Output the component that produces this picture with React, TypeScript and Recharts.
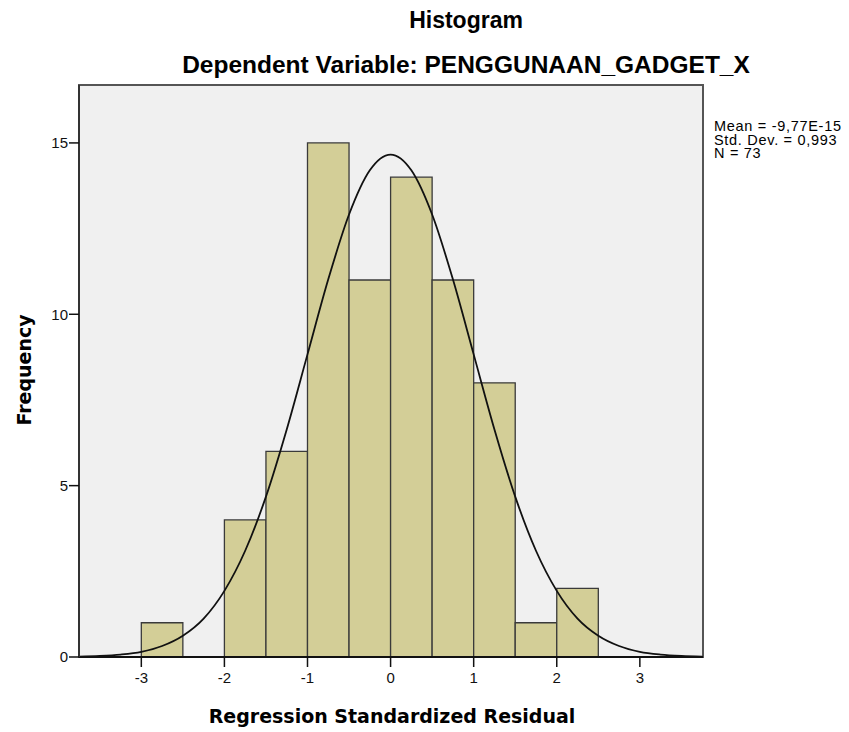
import React from "react";
import { ComposedChart, Line, XAxis, YAxis, ReferenceArea } from "recharts";

// Histogram bins (lower edge, upper edge, frequency)
const binStarts = [-3, -2.5, -2, -1.5, -1, -0.5, 0, 0.5, 1, 1.5, 2];
const binEnds = [-2.5, -2, -1.5, -1, -0.5, 0, 0.5, 1, 1.5, 2, 2.5];
const binCounts = [1, 0, 4, 6, 15, 11, 14, 11, 8, 1, 2];

// Normal curve
const curveX = [
  -3.75, -3.5, -3.25, -3, -2.75, -2.5, -2.25, -2, -1.75, -1.5, -1.25, -1, -0.75, -0.5, -0.25, 0,
  0.25, 0.5, 0.75, 1, 1.25, 1.5, 1.75, 2, 2.25, 2.5, 2.75, 3, 3.25, 3.5, 3.75,
];
const curveY = [
  0.01, 0.03, 0.07, 0.15, 0.32, 0.62, 1.12, 1.93, 3.1, 4.68, 6.64, 8.83, 11.02, 12.91, 14.2, 14.66,
  14.2, 12.91, 11.02, 8.83, 6.64, 4.68, 3.1, 1.93, 1.12, 0.62, 0.32, 0.15, 0.07, 0.03, 0.01,
];

const xTicks = [-3, -2, -1, 0, 1, 2, 3];
const yTicks = [0, 5, 10, 15];
const legendLines = ["Mean = -9,77E-15", "Std. Dev. = 0,993", "N = 73"];

const title = "Histogram";
const subtitle = "Dependent Variable: PENGGUNAAN_GADGET_X";
const xLabel = "Regression Standardized Residual";
const yLabel = "Frequency";

const curveData = curveX.map((x, i) => ({ x, y: curveY[i] }));

const W = 849;
const H = 732;
const tickStyle = { fill: "#111", fontSize: 15, fontFamily: "Liberation Sans, Arial, sans-serif" };

export default function App() {
  return (
    <div style={{ position: "absolute", left: 0, top: 0, width: W, height: H, background: "#fff" }}>
      <ComposedChart
        width={W}
        height={H}
        data={curveData}
        margin={{ top: 85, right: 146, bottom: 0, left: 0 }}
      >
        <XAxis
          type="number"
          dataKey="x"
          domain={[-3.75, 3.76]}
          ticks={xTicks}
          allowDataOverflow
          height={75}
          tickSize={10}
          tickMargin={5}
          tick={tickStyle}
          tickLine={{ stroke: "#111", strokeWidth: 1.5 }}
          axisLine={{ stroke: "#111", strokeWidth: 2 }}
        />
        <YAxis
          type="number"
          domain={[0, 16.69]}
          ticks={yTicks}
          allowDataOverflow
          width={79}
          tickSize={10}
          tickMargin={1}
          tick={tickStyle}
          tickLine={{ stroke: "#111", strokeWidth: 1.5 }}
          axisLine={{ stroke: "#333", strokeWidth: 2 }}
        />
        <ReferenceArea
          x1={-3.75}
          x2={3.76}
          y1={0}
          y2={16.69}
          fill="#F0F0F0"
          fillOpacity={1}
          stroke="#555"
          strokeWidth={2}
          ifOverflow="visible"
        />
        {binCounts.map((c, i) =>
          c > 0 ? (
            <ReferenceArea
              key={i}
              x1={binStarts[i]}
              x2={binEnds[i]}
              y1={0}
              y2={c}
              fill="#D3CE97"
              fillOpacity={1}
              stroke="#3a3a3a"
              strokeWidth={1.3}
              ifOverflow="visible"
            />
          ) : null
        )}
        <Line
          dataKey="y"
          type="monotone"
          stroke="#111"
          strokeWidth={1.8}
          dot={false}
          activeDot={false}
          isAnimationActive={false}
        />
      </ComposedChart>
      <svg
        width={W}
        height={H}
        style={{ position: "absolute", left: 0, top: 0, pointerEvents: "none" }}
      >
        <text
          x={466}
          y={28}
          textAnchor="middle"
          fontFamily="Liberation Sans, Arial, sans-serif"
          fontWeight="bold"
          fontSize={23}
          fill="#000"
        >
          {title}
        </text>
        <text
          x={466}
          y={73}
          textAnchor="middle"
          fontFamily="Liberation Sans, Arial, sans-serif"
          fontWeight="bold"
          fontSize={24.5}
          fill="#000"
        >
          {subtitle}
        </text>
        {legendLines.map((t, i) => (
          <text
            key={i}
            x={714}
            y={131 + i * 13.5}
            fontFamily="Liberation Sans, Arial, sans-serif"
            fontSize={14.5}
            letterSpacing={0.7}
            fill="#000"
          >
            {t}
          </text>
        ))}
        <text
          x={392}
          y={723}
          textAnchor="middle"
          fontFamily="DejaVu Sans, sans-serif"
          fontWeight="bold"
          fontSize={19}
          fill="#000"
        >
          {xLabel}
        </text>
        <text
          x={31}
          y={370}
          textAnchor="middle"
          transform="rotate(-90 31 370)"
          fontFamily="DejaVu Sans, sans-serif"
          fontWeight="bold"
          fontSize={19}
          fill="#000"
        >
          {yLabel}
        </text>
      </svg>
    </div>
  );
}
